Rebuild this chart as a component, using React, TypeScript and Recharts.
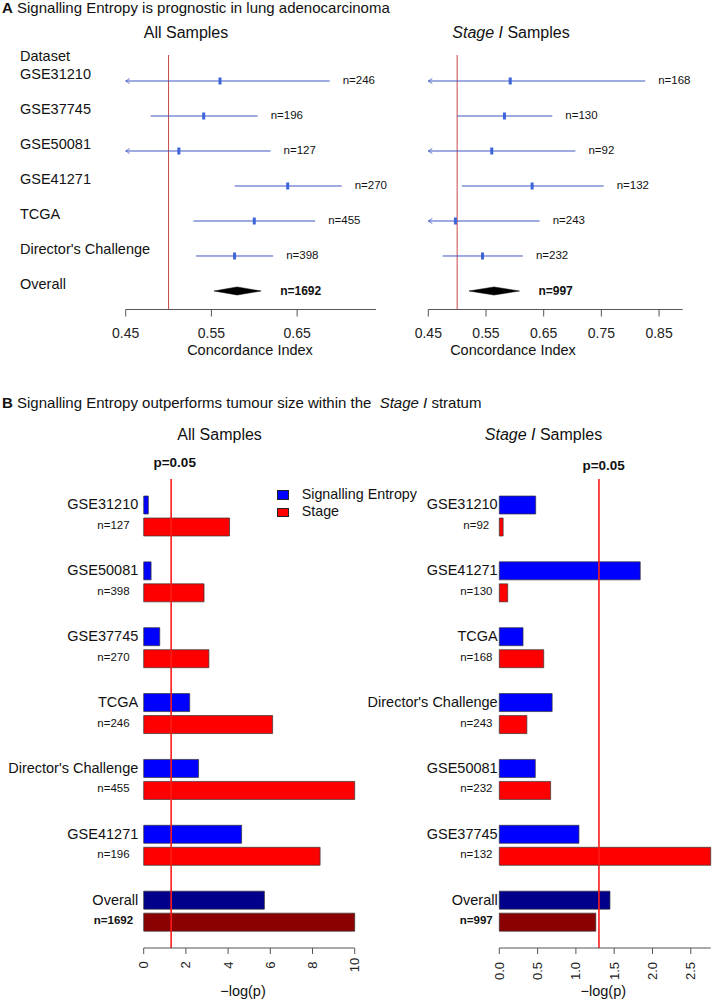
import React from "react";
import {
  ScatterChart,
  Scatter,
  ErrorBar,
  BarChart,
  Bar,
  Cell,
  XAxis,
  YAxis,
  ReferenceLine,
} from "recharts";

const FONT = '"Liberation Sans", Arial, Helvetica, sans-serif';

// ---- panel A: concordance index forest plots ----
const datasets = ["GSE31210", "GSE37745", "GSE50081", "GSE41271", "TCGA", "Director's Challenge"];

const allN = ["n=246", "n=196", "n=127", "n=270", "n=455", "n=398"];
const allEst = [0.56, 0.541, 0.512, 0.639, 0.6, 0.577];
const allLo = [0.432, 0.479, 0.405, 0.577, 0.529, 0.532];
const allHi = [0.688, 0.604, 0.619, 0.702, 0.671, 0.622];
const allOverall = [0.553, 0.58, 0.608]; // lo, est, hi
const allOverallN = "n=1692";

const stageN = ["n=168", "n=130", "n=92", "n=132", "n=243", "n=232"];
const stageEst = [0.592, 0.582, 0.56, 0.63, 0.497, 0.544];
const stageLo = [0.358, 0.5, 0.415, 0.508, 0.351, 0.475];
const stageHi = [0.826, 0.665, 0.705, 0.754, 0.643, 0.614];
const stageOverall = [0.5205, 0.564, 0.608];
const stageOverallN = "n=997";

const ciTicksAll = [0.45, 0.55, 0.65];
const ciTicksStage = [0.45, 0.55, 0.65, 0.75, 0.85];

// ---- panel B: -log(p) bars ----
const bAllNames = ["GSE31210", "GSE50081", "GSE37745", "TCGA", "Director's Challenge", "GSE41271", "Overall"];
const bAllN = ["n=127", "n=398", "n=270", "n=246", "n=455", "n=196", "n=1692"];
const bAllEntropy = [0.22, 0.35, 0.76, 2.18, 2.6, 4.64, 5.72];
const bAllStage = [4.07, 2.86, 3.09, 6.11, 10, 8.36, 10];

const bStageNames = ["GSE31210", "GSE41271", "TCGA", "Director's Challenge", "GSE50081", "GSE37745", "Overall"];
const bStageN = ["n=92", "n=130", "n=168", "n=243", "n=232", "n=132", "n=997"];
const bStageEntropy = [0.475, 1.84, 0.31, 0.69, 0.47, 1.04, 1.445];
const bStageStage = [0.05, 0.11, 0.58, 0.36, 0.67, 2.76, 1.26];

const bTicksAll = [0, 2, 4, 6, 8, 10];
const bTicksStage = [0, 0.5, 1, 1.5, 2, 2.5];

const pCut = 0.05;

function Txt({ x, y, size, anchor = "start", bold = false, children }: any) {
  const tx = anchor === "middle" ? "-50%" : anchor === "end" ? "-100%" : "0";
  return (
    <div
      style={{
        position: "absolute",
        left: x,
        top: y,
        transform: `translate(${tx}, -50%)`,
        fontSize: size,
        lineHeight: 1.2,
        fontWeight: bold ? 700 : 400,
        whiteSpace: "nowrap",
        color: "#111",
      }}
    >
      {children}
    </div>
  );
}

const CI_BLUE = "#3f58c4";

const PointMark = (p: any) => (
  <rect x={p.cx - 1.5} y={p.cy - 3.5} width={3} height={7} fill="#3d64db" />
);

const ArrowMark = (p: any) => (
  <path
    d={`M${p.cx + 4},${p.cy - 2.5} L${p.cx},${p.cy} L${p.cx + 4},${p.cy + 2.5}`}
    stroke={CI_BLUE}
    fill="none"
    strokeWidth={0.8}
  />
);

const NoMark = () => <g />;

function Forest({ n, est, lo, hi, overall, overallN, xMax, ticks, left, width, plotLeft, plotRight, labels }: any) {
  const xMin = 0.45;
  const o = est.length;
  const rows = est.map((e: number, i: number) => ({
    x: e,
    y: i,
    err: [e - Math.max(lo[i], xMin), hi[i] - e],
  }));
  const arrows = lo
    .map((l: number, i: number) => ({ x: xMin, y: i, cut: l < xMin }))
    .filter((d: any) => d.cut);
  const nText = hi.map((h: number, i: number) => ({ x: h, y: i, text: n[i] }));
  const diamond = [
    { x: overall[0], y: o },
    { x: overall[1], y: o - 0.115 },
    { x: overall[2], y: o },
    { x: overall[1], y: o + 0.115 },
  ];
  const rowNames = [...datasets, "Overall"];

  return (
    <div style={{ position: "absolute", left, top: 0 }}>
      <ScatterChart
        width={width}
        height={370}
        margin={{ top: 55, right: width - (plotRight - left), bottom: 0, left: labels ? 0 : plotLeft - left }}
      >
        <XAxis
          type="number"
          dataKey="x"
          domain={[xMin, xMax]}
          ticks={ticks}
          interval={0}
          tickFormatter={(v: number) => v.toFixed(2)}
          height={60.5}
          tickSize={7}
          tickMargin={11.5}
          stroke="#555"
          tick={{ fill: "#222", fontSize: 14, fontFamily: FONT }}
        />
        <YAxis
          type="number"
          dataKey="y"
          domain={[-0.743, 6.529]}
          reversed
          hide={!labels}
          width={plotLeft - left}
          ticks={[0, 1, 2, 3, 4, 5, 6]}
          interval={0}
          axisLine={false}
          tickLine={false}
          tick={(p: any) => (
            <text x={20} y={p.y - 7} dominantBaseline="central" fontSize={14.5} fontFamily={FONT} fill="#111">
              {rowNames[p.payload.value]}
            </text>
          )}
        />
        <ReferenceLine x={0.5} stroke="#c94848" strokeWidth={1} />
        <Scatter data={rows} shape={PointMark} isAnimationActive={false}>
          <ErrorBar dataKey="err" direction="x" width={0} stroke={CI_BLUE} strokeWidth={1} />
        </Scatter>
        <Scatter data={arrows} shape={ArrowMark} isAnimationActive={false} />
        <Scatter
          data={nText}
          isAnimationActive={false}
          shape={(p: any) => (
            <text x={p.cx + 13} y={p.cy - 1} dominantBaseline="central" fontSize={11.5} fontFamily={FONT} fill="#111">
              {p.payload.text}
            </text>
          )}
        />
        <Scatter
          data={diamond}
          isAnimationActive={false}
          shape={NoMark}
          line={(lp: any) => (
            <polygon points={lp.points.map((q: any) => `${q.x},${q.y}`).join(" ")} fill="#000" stroke="#000" strokeWidth={0.5} />
          )}
        />
        <Scatter
          data={[{ x: overall[2], y: o, text: overallN }]}
          isAnimationActive={false}
          shape={(p: any) => (
            <text x={p.cx + 19} y={p.cy} dominantBaseline="central" fontSize={12} fontWeight={700} fontFamily={FONT} fill="#111">
              {p.payload.text}
            </text>
          )}
        />
      </ScatterChart>
    </div>
  );
}

function PBars({ names, n, entropy, stage, ticks, domainMax, digits, left, width, plotLeft, plotRight, nameGap, nCenter, tickDy }: any) {
  const data = names.map((name: string, i: number) => ({ name, n: n[i], entropy: entropy[i], stage: stage[i] }));
  const last = names.length - 1;
  return (
    <div style={{ position: "absolute", left, top: 440 }}>
      <BarChart
        layout="vertical"
        width={width}
        height={559}
        data={data}
        margin={{ top: 39, right: width - (plotRight - left), bottom: 0, left: 0 }}
        barSize={18}
        barGap={4}
      >
        <XAxis
          type="number"
          domain={[0, domainMax]}
          ticks={ticks}
          interval={0}
          height={51}
          tickSize={6}
          tickMargin={0}
          stroke="#555"
          tick={(p: any) => (
            <text
              x={p.x}
              y={p.y + tickDy}
              transform={`rotate(-90 ${p.x} ${p.y + tickDy})`}
              textAnchor="middle"
              dominantBaseline="central"
              fontSize={13}
              fontFamily={FONT}
              fill="#222"
            >
              {Number(p.payload.value).toFixed(digits)}
            </text>
          )}
        />
        <YAxis
          type="category"
          dataKey="name"
          width={plotLeft - left}
          axisLine={false}
          tickLine={false}
          tickSize={0}
          tickMargin={0}
          interval={0}
          padding={{ top: 4, bottom: 4 }}
          tick={(p: any) => {
            const i = names.indexOf(p.payload.value);
            return (
              <g>
                <text x={p.x - nameGap} y={p.y - 11.5} textAnchor="end" dominantBaseline="central" fontSize={14.5} fontFamily={FONT} fill="#111">
                  {p.payload.value}
                </text>
                <text
                  x={p.x - nCenter}
                  y={p.y + 9}
                  textAnchor="middle"
                  dominantBaseline="central"
                  fontSize={11.5}
                  fontWeight={i === last ? 700 : 400}
                  fontFamily={FONT}
                  fill="#111"
                >
                  {n[i]}
                </text>
              </g>
            );
          }}
        />
        <Bar dataKey="entropy" isAnimationActive={false} stroke="#333" strokeWidth={0.7}>
          {data.map((_: any, i: number) => (
            <Cell key={i} fill={i === last ? "#00008b" : "#0000ff"} />
          ))}
        </Bar>
        <Bar dataKey="stage" isAnimationActive={false} stroke="#333" strokeWidth={0.7}>
          {data.map((_: any, i: number) => (
            <Cell key={i} fill={i === last ? "#8b0000" : "#ff0000"} />
          ))}
        </Bar>
        <ReferenceLine x={-Math.log10(pCut)} stroke="#ff1a1a" strokeWidth={1.6} />
      </BarChart>
    </div>
  );
}

export default function App() {
  return (
    <div
      style={{
        position: "absolute",
        left: 0,
        top: 0,
        width: 712,
        height: 999,
        background: "#fff",
        fontFamily: FONT,
        overflow: "hidden",
      }}
    >
      <Forest
        n={allN}
        est={allEst}
        lo={allLo}
        hi={allHi}
        overall={allOverall}
        overallN={allOverallN}
        xMax={0.742}
        ticks={ciTicksAll}
        left={0}
        width={400}
        plotLeft={125.7}
        plotRight={376}
        labels
      />
      <Forest
        n={stageN}
        est={stageEst}
        lo={stageLo}
        hi={stageHi}
        overall={stageOverall}
        overallN={stageOverallN}
        xMax={0.891}
        ticks={ciTicksStage}
        left={400}
        width={312}
        plotLeft={428.3}
        plotRight={682.7}
        labels={false}
      />
      <PBars
        names={bAllNames}
        n={bAllN}
        entropy={bAllEntropy}
        stage={bAllStage}
        ticks={bTicksAll}
        domainMax={10}
        digits={0}
        left={0}
        width={380}
        plotLeft={143.7}
        plotRight={354.7}
        nameGap={5.4}
        nCenter={30.2}
        tickDy={11}
      />
      <PBars
        names={bStageNames}
        n={bStageN}
        entropy={bStageEntropy}
        stage={bStageStage}
        ticks={bTicksStage}
        domainMax={2.76}
        digits={1}
        left={360}
        width={352}
        plotLeft={499.3}
        plotRight={710.7}
        nameGap={1.6}
        nCenter={23}
        tickDy={17}
      />

      <Txt x={2} y={8} size={15}>
        <b>A</b> Signalling Entropy is prognostic in lung adenocarcinoma
      </Txt>
      <Txt x={186} y={33} size={16} anchor="middle">All Samples</Txt>
      <Txt x={511} y={33} size={16} anchor="middle">
        <i>Stage I</i> Samples
      </Txt>
      <Txt x={20} y={57} size={14.5}>Dataset</Txt>
      <Txt x={250} y={351} size={14.5} anchor="middle">Concordance Index</Txt>
      <Txt x={513} y={351} size={14.5} anchor="middle">Concordance Index</Txt>

      <Txt x={2} y={403} size={15}>
        <b>B</b> Signalling Entropy outperforms tumour size within the&nbsp; <i>Stage I</i> stratum
      </Txt>
      <Txt x={219.6} y={435} size={16} anchor="middle">All Samples</Txt>
      <Txt x={543.5} y={435} size={16} anchor="middle">
        <i>Stage I</i> Samples
      </Txt>
      <Txt x={174.7} y={463.3} size={13.5} anchor="middle" bold>p=0.05</Txt>
      <Txt x={603.6} y={466} size={13.5} anchor="middle" bold>p=0.05</Txt>

      <div style={{ position: "absolute", left: 277, top: 490, width: 10, height: 8, background: "#0000ff", border: "0.5px solid #222" }} />
      <div style={{ position: "absolute", left: 277, top: 507.5, width: 10, height: 7.5, background: "#ff0000", border: "0.5px solid #222" }} />
      <Txt x={301.7} y={495} size={14.3}>Signalling Entropy</Txt>
      <Txt x={301.7} y={512.3} size={14.3}>Stage</Txt>

      <Txt x={243} y={991.7} size={14.5} anchor="middle">−log(p)</Txt>
      <Txt x={603.3} y={991.7} size={14.5} anchor="middle">−log(p)</Txt>
    </div>
  );
}
